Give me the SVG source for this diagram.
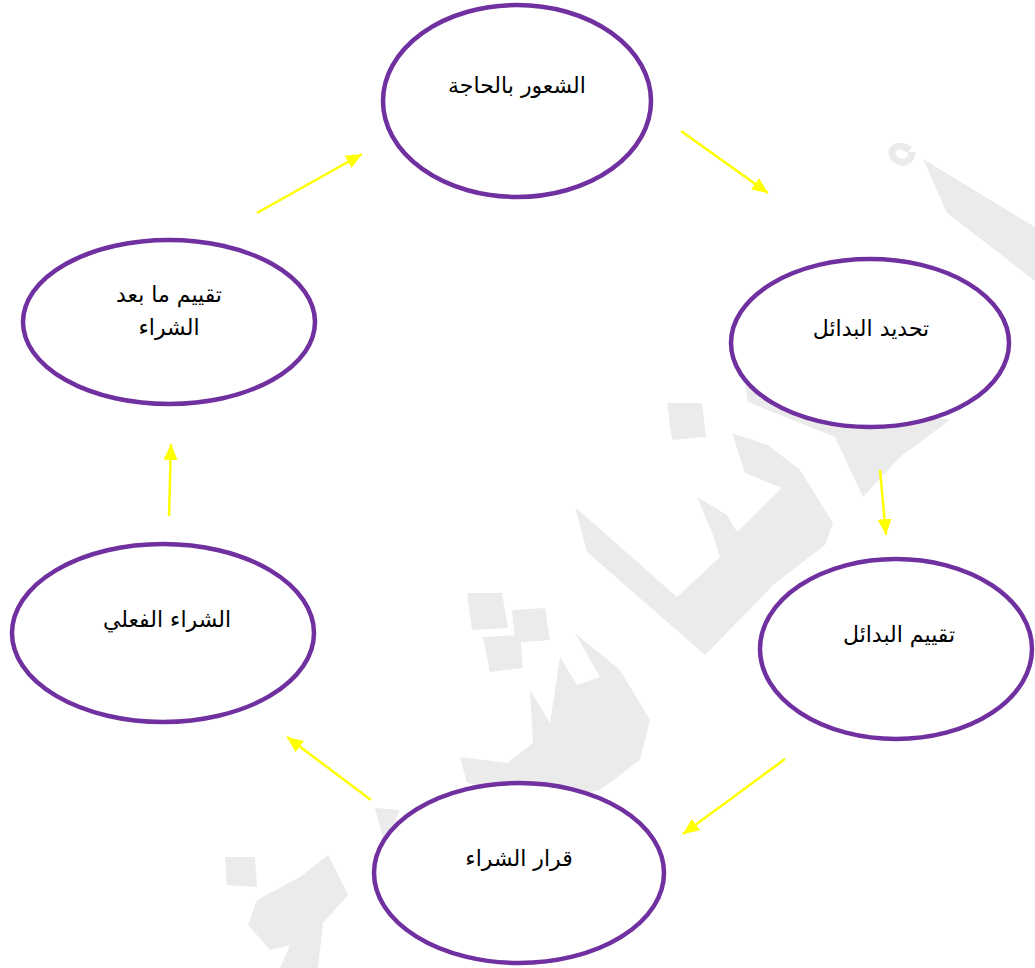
<svg xmlns="http://www.w3.org/2000/svg" width="1035" height="968" viewBox="0 0 1035 968">
<style>
.node{fill:#ffffff;stroke:#7030a0;stroke-width:4.5}
.lbl{font-family:"DejaVu Sans","Liberation Sans",sans-serif;font-size:22px;fill:#000000;text-anchor:middle}
.conn{stroke:#ffff00;stroke-width:2.5;fill:none;marker-end:url(#ah)}
.wm{fill:#ebebeb;stroke:none}
</style>
<defs>
<marker id="ah" markerUnits="userSpaceOnUse" markerWidth="18" markerHeight="16" refX="16" refY="7" orient="auto">
<path d="M0,0 L16,7 L0,14 Z" fill="#ffff00"/>
</marker>
</defs>
<rect width="1035" height="968" fill="#ffffff"/>
<g id="watermark">
<polygon class="wm" points="923,159 1035,227 1035,281 947,213"/>
<path d="M910,150 C896,140 886,152 896,160 C904,166 912,160 912,152" fill="none" stroke="#ebebeb" stroke-width="7"/>
<polygon class="wm" points="745,385 950,420 900,457 863,497 835,437 748,402"/>
<polygon class="wm" points="667,403 702,403 706,437 672,440"/>
<polygon class="wm" points="575,507 677,597 720,557 713,535 697,497 727,515 737,532 782,488 745,473 732,433 768,445 800,470 833,523 825,545 773,585 757,602 705,655 587,552"/>
<polygon class="wm" points="467,593 502,593 508,628 472,630"/>
<polygon class="wm" points="512,610 545,608 550,640 515,643"/>
<polygon class="wm" points="483,637 520,635 523,668 490,672"/>
<polygon class="wm" points="530,690 550,723 560,657 577,685 600,677 575,633 620,670 650,720 640,760 600,790 550,800 510,790 467,783 460,757 507,763 533,743"/>
<polygon class="wm" points="375,808 400,810 385,845"/>
<polygon class="wm" points="225,857 255,857 257,887 227,885"/>
<polygon class="wm" points="328,855 348,895 323,923 318,968 280,968 290,945 270,950 248,925 257,900 300,877"/>
</g>
<g id="connectors">
<line class="conn" x1="681" y1="131" x2="768" y2="193"/>
<line class="conn" x1="880" y1="470" x2="886" y2="535"/>
<line class="conn" x1="785" y1="759" x2="683" y2="834"/>
<line class="conn" x1="371" y1="800" x2="287" y2="737"/>
<line class="conn" x1="169" y1="516" x2="171" y2="444"/>
<line class="conn" x1="257" y1="213" x2="362" y2="154"/>
</g>
<g id="n1">
<ellipse class="node" cx="517" cy="101" rx="134" ry="96"/>
<text class="lbl" x="517" y="93">الشعور بالحاجة</text>
</g>
<g id="n2">
<ellipse class="node" cx="870" cy="343" rx="139" ry="84"/>
<text class="lbl" x="871" y="336">تحديد البدائل</text>
</g>
<g id="n3">
<ellipse class="node" cx="896" cy="649" rx="136" ry="90"/>
<text class="lbl" x="899" y="642">تقييم البدائل</text>
</g>
<g id="n4">
<ellipse class="node" cx="519" cy="873" rx="145" ry="90"/>
<text class="lbl" x="519" y="866">قرار الشراء</text>
</g>
<g id="n5">
<ellipse class="node" cx="163" cy="633" rx="151" ry="89"/>
<text class="lbl" x="167" y="627">الشراء الفعلي</text>
</g>
<g id="n6">
<ellipse class="node" cx="169" cy="322" rx="146" ry="82"/>
<text class="lbl" x="169" y="302">تقييم ما بعد</text>
<text class="lbl" x="169" y="335">الشراء</text>
</g>
</svg>
